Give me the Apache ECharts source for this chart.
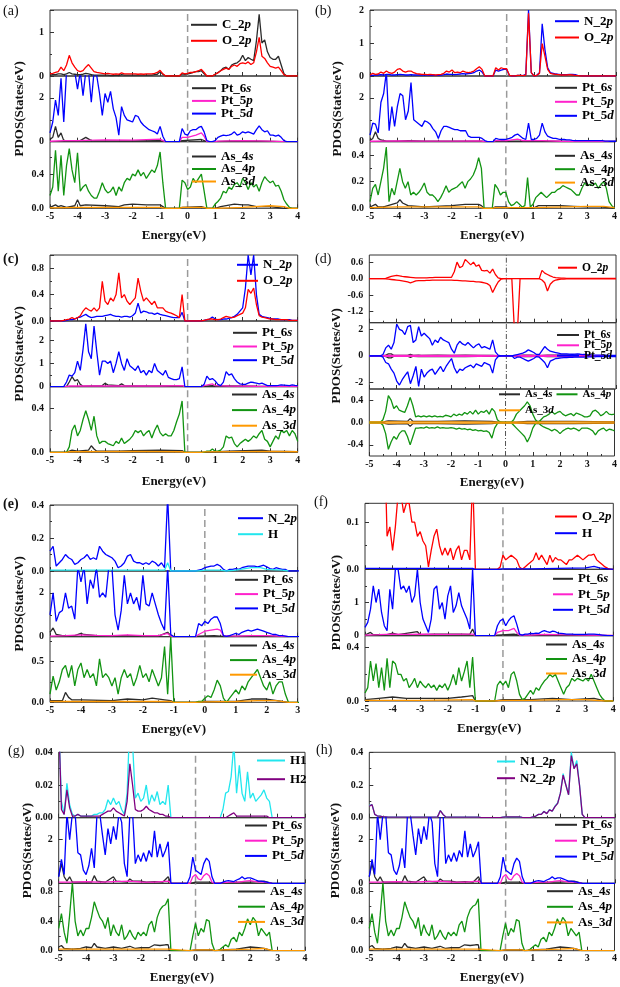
<!DOCTYPE html>
<html><head><meta charset="utf-8">
<script src="https://cdn.jsdelivr.net/npm/echarts@6/dist/echarts.min.js"></script>
<style>html,body{margin:0;padding:0;background:#fff}#c{width:620px;height:987px}</style>
</head><body><div id="c"></div><script>
// ---------------- DATA ----------------
const E = [-5.0,-4.9,-4.8,-4.7,-4.6,-4.5,-4.4,-4.3,-4.2,-4.1,-4.0,-3.9,-3.8,-3.7,-3.6,-3.5,-3.4,-3.3,-3.2,-3.1,-3.0,-2.9,-2.8,-2.7,-2.6,-2.5,-2.4,-2.3,-2.2,-2.1,-2.0,-1.9,-1.8,-1.7,-1.6,-1.5,-1.4,-1.3,-1.2,-1.1,-1.0,-0.9,-0.8,-0.7,-0.6,-0.5,-0.4,-0.3,-0.2,-0.1,0.0,0.1,0.2,0.3,0.4,0.5,0.6,0.7,0.8,0.9,1.0,1.1,1.2,1.3,1.4,1.5,1.6,1.7,1.8,1.9,2.0,2.1,2.2,2.3,2.4,2.5,2.6,2.7,2.8,2.9,3.0,3.1,3.2,3.3,3.4,3.5,3.6,3.7,3.8,3.9,4.0];
const FERMI = 0;

// (a)
const a_C2p = [0.02,0.03,0.03,0.05,0.05,0.03,0.05,0.08,0.05,0.04,
 0.03,0.03,0.04,0.06,0.05,0.03,0.02,0.02,0.02,0.02,
 0.02,0.02,0.01,0.01,0.02,0.01,0.03,0.02,0.02,0.02,
 0.02,0.02,0.02,0.02,0.02,0.02,0.02,0.02,0.03,0.04,
 0.1,0.04,0,0,0,0,0,0,0.05,0.04,
 0.05,0.06,0.08,0.1,0.1,0.12,0.05,0,0,0,
 0.04,0.08,0.12,0.18,0.2,0.15,0.25,0.28,0.3,0.35,
 0.47,0.35,0.42,0.38,0.35,0.8,1.4,0.75,0.82,0.55,
 0.42,0.38,0.38,0.45,0.25,0.05,0,0,0,0,
 0];
const a_O2p = [0.05,0.06,0.08,0.1,0.2,0.12,0.25,0.47,0.3,0.2,
 0.12,0.1,0.12,0.2,0.26,0.18,0.1,0.08,0.07,0.06,
 0.05,0.06,0.05,0.04,0.05,0.04,0.07,0.05,0.05,0.05,
 0.05,0.05,0.04,0.05,0.04,0.05,0.05,0.05,0.06,0.08,
 0.13,0.05,0,0,0,0,0,0,0.07,0.05,
 0.06,0.08,0.08,0.1,0.12,0.15,0.08,0,0,0,
 0.04,0.07,0.12,0.15,0.18,0.15,0.22,0.25,0.22,0.28,
 0.3,0.28,0.32,0.26,0.3,0.55,0.88,0.45,0.4,0.3,
 0.22,0.2,0.18,0.2,0.12,0.03,0,0,0,0,
 0];
const a_Pt5d = [0.4,0.9,1.9,1.2,2.9,0.9,3.2,3.2,3.2,3.2,
 2.4,3.2,2.1,3.2,3.2,1.8,3.2,3.0,2.2,1.2,
 2.2,1.8,2.3,1.5,1.1,0.3,1.6,1.2,1.0,0.95,
 0.9,1.2,1.15,0.9,0.75,0.65,0.55,0.5,0.45,0.35,
 0.7,0.25,0,0,0,0,0,0,0.6,0.35,
 0.3,0.5,0.55,0.55,0.65,0.7,0.45,0.05,0,0,
 0.05,0.2,0.25,0.3,0.28,0.3,0.35,0.45,0.3,0.35,
 0.45,0.4,0.45,0.4,0.35,0.55,0.72,0.55,0.45,0.5,
 0.3,0.3,0.25,0.3,0.2,0.05,0,0,0,0,
 0];
const a_Pt6s = [[-5,0.1],[-4.9,0.2],[-4.8,0.7],[-4.7,0.2],[-4.6,0.4],[-4.5,0.05],[-4.2,0.03],[-3.9,0.05],[-3.7,0.2],[-3.5,0.05],[-3,0.04],[-2,0.04],[-1.0,0.05],[-0.9,0.02],[-0.8,0],[-0.3,0],[-0.2,0.05],[0.5,0.1],[0.7,0],[1.0,0],[1.5,0.02],[2.6,0.03],[3.5,0],[4,0]];
const a_Pt5p = [[-5,0.02],[-4.5,0.05],[-4,0.05],[-3,0.08],[-2,0.07],[-1.0,0.12],[-0.9,0.05],[-0.8,0],[-0.3,0],[-0.2,0.2],[0,0.2],[0.3,0.3],[0.5,0.4],[0.6,0.25],[0.7,0],[1.0,0],[1.1,0.03],[2,0.05],[3,0.03],[3.5,0],[4,0]];
const a_As4p = [0.15,0.25,0.68,0.2,0.62,0.15,0.5,0.7,0.45,0.3,
 0.65,0.2,0.25,0.28,0.2,0.15,0.12,0.12,0.2,0.3,
 0.22,0.18,0.2,0.25,0.15,0.25,0.2,0.3,0.35,0.33,
 0.4,0.38,0.45,0.38,0.42,0.35,0.4,0.45,0.42,0.5,
 0.66,0.3,0,0,0,0,0,0,0.33,0.3,
 0.22,0.25,0.35,0.3,0.35,0.4,0.2,0,0,0,
 0.05,0.08,0.12,0.2,0.18,0.25,0.22,0.28,0.3,0.25,
 0.35,0.3,0.22,0.3,0.25,0.28,0.2,0.3,0.37,0.33,
 0.3,0.32,0.26,0.27,0.2,0.1,0.05,0.01,0,0,
 0];
const a_As4s = [[-5,0.01],[-4.8,0.04],[-4.7,0.02],[-4.6,0.03],[-4.4,0.01],[-4.1,0.03],[-4.0,0.1],[-3.9,0.03],[-3.7,0.04],[-3.0,0.03],[-2.5,0.02],[-2.3,0.04],[-2.0,0.05],[-1.5,0.04],[-1.0,0.04],[-0.9,0.02],[-0.8,0],[-0.3,0],[-0.2,0.01],[0.5,0.02],[0.7,0],[1.0,0],[1.2,0.02],[1.7,0.05],[2.0,0.04],[2.2,0.04],[2.5,0.02],[3,0.02],[3.5,0],[4,0]];
const a_As3d = [[-5,0.005],[-4,0.01],[-2,0.01],[-1,0.01],[-0.8,0],[-0.3,0],[-0.2,0.01],[0.6,0.01],[0.7,0],[1.0,0],[2,0.01],[3,0.03],[3.5,0.02],[3.7,0],[4,0]];

// (b)
const b_N2p = [0.01,0.02,0.03,0.03,0.04,0.03,0.05,0.05,0.03,0.03,
 0.04,0.05,0.04,0.03,0.03,0.04,0.03,0.03,0.03,0.03,
 0.03,0.03,0.02,0.03,0.02,0.02,0.03,0.04,0.06,0.05,
 0.05,0.04,0.05,0.06,0.07,0.06,0.07,0.08,0.1,0.15,
 0.18,0.12,0,0,0,0,0.18,0.15,0.18,0.2,
 0.2,0.02,0,0,0.02,0.02,0.01,0.05,2.0,0.1,
 0,0.02,0.1,1.58,0.8,0.25,0.1,0.08,0.06,0.05,
 0.04,0.04,0.04,0.05,0.05,0.04,0.02,0.01,0,0,
 0,0,0,0,0,0,0,0,0,0,
 0];
const b_O2p = [0.03,0.08,0.05,0.06,0.12,0.08,0.15,0.1,0.08,0.12,
 0.2,0.22,0.15,0.12,0.15,0.15,0.1,0.07,0.06,0.05,
 0.05,0.04,0.05,0.04,0.03,0.04,0.05,0.08,0.15,0.12,
 0.18,0.1,0.12,0.1,0.15,0.12,0.1,0.12,0.15,0.22,
 0.28,0.2,0,0,0,0,0.25,0.18,0.25,0.22,
 0.22,0.02,0,0,0.02,0.02,0.01,0.03,1.9,0.1,
 0,0.02,0.08,0.98,0.6,0.2,0.08,0.06,0.05,0.04,
 0.03,0.03,0.03,0.04,0.03,0.02,0.01,0,0,0,
 0,0,0,0,0,0,0,0,0,0,
 0];
const b_Pt5d = [0.3,0.85,0.8,0.4,1.8,2.2,3.2,0.5,1.6,0.7,
 1.6,2.2,2.1,1.0,1.4,2.7,1.0,0.9,0.8,0.7,
 0.95,0.9,0.8,0.6,0.45,0.15,0.5,0.7,0.7,0.65,
 0.6,0.55,0.55,0.5,0.5,0.5,0.25,0.2,0.2,0.2,
 0.2,0.15,0.05,0,0,0,0.15,0.12,0.1,0.1,
 0.12,0.15,0.2,0.3,0.35,0.25,0.15,0.1,0.85,0.1,
 0.1,0.15,0.3,0.85,0.45,0.25,0.2,0.15,0.15,0.12,
 0.1,0.1,0.08,0.08,0.06,0.05,0.05,0.05,0.05,0.05,
 0.05,0.05,0.05,0.05,0.05,0.05,0.03,0.03,0.02,0.02,
 0.02];
const b_Pt6s = [[-5,0.05],[-4.9,0.15],[-4.8,0.45],[-4.7,0.15],[-4.6,0.08],[-4.4,0.03],[-4,0.03],[-3.6,0.05],[-3,0.02],[-2,0.02],[-1,0.03],[-0.9,0.02],[-0.8,0],[-0.5,0],[-0.4,0.02],[0,0.02],[0.8,0.02],[1.5,0.02],[2.5,0.01],[4,0.01]];
const b_Pt5p = [[-5,0.02],[-4,0.04],[-3,0.03],[-2,0.03],[-1,0.04],[-0.8,0],[-0.5,0],[-0.4,0.05],[0,0.05],[0.4,0.12],[0.6,0.05],[1.3,0.05],[2,0.02],[4,0.01]];
const b_As4p = [0.05,0.15,0.18,0.1,0.2,0.3,0.46,0.05,0.15,0.1,
 0.2,0.3,0.2,0.15,0.2,0.1,0.12,0.1,0.12,0.15,
 0.19,0.12,0.1,0.1,0.08,0.05,0.08,0.12,0.17,0.12,
 0.14,0.15,0.16,0.18,0.2,0.15,0.2,0.22,0.25,0.3,
 0.38,0.3,0,0,0,0,0.18,0.15,0.1,0.12,
 0.12,0.05,0.02,0.03,0.05,0.03,0.01,0.02,0.23,0.01,
 0.03,0.08,0.1,0.12,0.1,0.08,0.1,0.12,0.12,0.14,
 0.15,0.17,0.16,0.15,0.14,0.12,0.1,0.1,0.15,0.19,
 0.17,0.18,0.17,0.19,0.15,0.18,0.2,0.15,0.05,0.02,
 0];
const b_As4s = [[-5,0.01],[-4.8,0.03],[-4.7,0.01],[-4.5,0.01],[-4.0,0.04],[-3.9,0.065],[-3.8,0.04],[-3.6,0.02],[-3,0.01],[-2,0.02],[-1.5,0.03],[-1.0,0.03],[-0.9,0.02],[-0.8,0],[-0.5,0],[-0.4,0.01],[0,0.01],[0.2,0],[1,0],[1.2,0.02],[2,0.02],[2.5,0.015],[3,0.01],[3.5,0.01],[4,0]];
const b_As3d = [[-5,0.005],[-4,0.01],[-1,0.01],[-0.8,0],[-0.5,0],[-0.4,0.005],[0,0.005],[1,0.005],[3,0.015],[3.6,0.015],[4,0.005]];

// (c)
const c_N2p = [0,0,0,0,0,0,0.01,0.02,0.02,0.03,
 0.05,0.06,0.08,0.1,0.07,0.05,0.06,0.07,0.07,0.07,
 0.08,0.09,0.1,0.08,0.07,0.07,0.06,0.07,0.07,0.06,
 0.08,0.12,0.27,0.12,0.15,0.14,0.12,0.12,0.1,0.12,
 0.1,0.09,0.08,0.07,0.06,0.05,0.05,0.05,0.13,0,
 0,0,0,0,0,0,0.01,0.02,0.03,0.06,
 0.03,0.02,0.02,0.03,0.03,0.04,0.05,0.07,0.1,0.15,
 0.2,0.5,1.0,0.7,1.0,0.4,0.1,0.07,0.06,0.05,
 0.04,0.03,0.03,0.03,0.02,0.02,0.02,0.02,0.01,0.01,
 0.01];
const c_O2p = [0,0,0,0,0,0.01,0.02,0.03,0.05,0.03,
 0.05,0.08,0.15,0.2,0.17,0.15,0.2,0.15,0.2,0.6,
 0.3,0.25,0.35,0.3,0.4,0.73,0.35,0.4,0.3,0.25,
 0.3,0.35,0.65,0.45,0.3,0.35,0.3,0.25,0.3,0.2,
 0.2,0.2,0.15,0.13,0.12,0.1,0.08,0.05,0.4,0,
 0,0,0,0,0,0,0.01,0.02,0.03,0.03,
 0.02,0.02,0.03,0.05,0.07,0.06,0.05,0.06,0.08,0.1,
 0.12,0.2,0.48,0.42,0.5,0.25,0.08,0.06,0.05,0.04,
 0.03,0.03,0.02,0.02,0.02,0.02,0.02,0.01,0.01,0.01,
 0.01];
const c_Pt5d = [0,0,0,0,0,0,0.2,0.5,0.45,0.6,
 1.1,0.7,1.6,2.7,1.5,1.2,2.6,1.5,0.5,1.1,
 1.1,1.0,1.1,0.6,1.0,1.5,1.0,0.7,1.2,0.9,
 0.8,0.7,0.9,0.6,0.7,0.5,0.7,0.6,1.0,0.7,
 0.6,0.5,0.7,0.4,0.35,0.3,0.3,0.35,0.85,0,
 0,0,0,0,0,0,0.1,0.45,0.3,0.35,
 0.25,0.1,0.05,0.2,0.65,0.5,0.55,0.35,0.2,0.12,
 0.1,0.1,0.15,0.2,0.18,0.15,0.12,0.15,0.1,0.05,
 0.05,0.05,0.05,0.06,0.08,0.07,0.06,0.05,0.08,0.06,
 0.05];
const c_Pt6s = [[-5,0],[-4.4,0],[-4.3,0.2],[-4.2,0.43],[-4.1,0.25],[-4.0,0.3],[-3.9,0.1],[-3.8,0.02],[-3.1,0.05],[-3.0,0.15],[-2.9,0.08],[-2.5,0.04],[-2.4,0.12],[-2.3,0.05],[-2,0.03],[-1,0.03],[-0.2,0.03],[-0.1,0],[0.5,0],[0.6,0.02],[0.9,0.05],[1.0,0.02],[1.5,0.03],[2.5,0.02],[4,0.01]];
const c_Pt5p = [[-5,0],[-4.4,0],[-4.3,0.03],[-4,0.03],[-3,0.03],[-2,0.03],[-1,0.03],[-0.2,0.05],[-0.1,0],[0.5,0],[0.6,0.05],[0.9,0.12],[1.0,0.05],[1.5,0.03],[2.5,0.02],[4,0.01]];
const c_As4p = [0,0,0,0,0,0,0,0.05,0.2,0.25,
 0.15,0.2,0.3,0.38,0.3,0.2,0.33,0.15,0.08,0.1,
 0.1,0.08,0.07,0.06,0.1,0.08,0.13,0.08,0.1,0.12,
 0.15,0.2,0.18,0.2,0.15,0.18,0.2,0.13,0.2,0.25,
 0.18,0.15,0.17,0.15,0.15,0.2,0.28,0.35,0.47,0,
 0,0,0,0,0,0,0,0.01,0.01,0.03,
 0.01,0.01,0.02,0.05,0.15,0.13,0.14,0.08,0.05,0.08,
 0.1,0.12,0.1,0.12,0.15,0.13,0.17,0.2,0.12,0.1,
 0.05,0.1,0.15,0.12,0.2,0.18,0.2,0.15,0.2,0.17,
 0.1];
const c_As4s = [[-5,0],[-4.4,0],[-4.3,0.01],[-4.2,0.02],[-4.0,0.01],[-3.6,0.02],[-3.5,0.06],[-3.4,0.03],[-3.3,0.01],[-2.5,0.01],[-2,0.015],[-1,0.02],[-0.2,0.015],[-0.1,0],[0.5,0],[0.6,0],[1.5,0.01],[2.7,0.02],[3,0.01],[4,0.005]];
const c_As3d = [[-5,0],[-4.4,0],[-4.3,0.005],[-2,0.008],[-0.2,0.005],[-0.1,0],[0.5,0],[0.6,0.003],[3,0.008],[4,0.005]];

// (d) spin up / spin down
const d_O2p_up = [0,0,0,0,0,0,0.01,0.05,0.08,0.1,
 0.12,0.1,0.08,0.07,0.06,0.05,0.04,0.03,0.03,0.03,
 0.03,0.03,0.04,0.04,0.05,0.05,0.05,0.05,0.05,0.05,
 0.05,0.25,0.6,0.4,0.45,0.7,0.6,0.5,0.6,0.45,
 0.5,0.3,0.28,0.3,0.2,0.35,0.15,0.03,0,0,
 0,0,0,0,0,0,0,0,0,0,
 0,0,0,0.3,0.2,0.15,0.1,0.06,0.04,0.03,
 0.02,0.02,0.01,0.01,0.01,0.01,0.01,0.01,0.01,0.01,
 0.01,0.01,0.01,0.01,0.01,0.01,0.01,0.01,0.01,0.01,
 0.01];
const d_O2p_dn = [0,0,0,0,0,0,-0.01,-0.02,-0.03,-0.04,
 -0.05,-0.06,-0.08,-0.1,-0.12,-0.15,-0.12,-0.08,-0.07,-0.07,
 -0.07,-0.06,-0.06,-0.05,-0.05,-0.05,-0.05,-0.05,-0.05,-0.05,
 -0.05,-0.06,-0.06,-0.07,-0.08,-0.08,-0.09,-0.1,-0.1,-0.12,
 -0.12,-0.13,-0.15,-0.18,-0.25,-0.5,-0.3,-0.12,-0.02,0,
 0,0,0,-2.0,-2.0,0,0,0,0,0,
 0,0,0,-0.05,-0.15,-0.45,-0.2,-0.1,-0.05,-0.03,
 -0.02,-0.02,-0.01,-0.01,-0.01,-0.01,-0.01,-0.01,-0.01,-0.01,
 -0.01,-0.01,-0.01,-0.01,-0.01,-0.01,-0.01,-0.01,-0.01,-0.01,
 -0.01];
const d_Pt5d_up = [0,0,0,0,0,0.1,0.6,0.8,0.5,1.0,
 2.4,2.0,1.9,1.6,2.2,2.3,1.0,1.2,2.2,1.5,
 1.7,1.5,1.3,0.8,1.2,1.0,1.4,1.2,1.1,1.0,
 0.5,0.2,0.8,1.1,0.9,0.8,1.0,0.8,0.6,0.8,
 0.9,0.6,0.7,0.6,0.5,1.2,0.3,0.05,0,0,
 0,0,0,0.05,0.1,0.15,0.2,0.3,0.45,0.35,
 0.25,0.1,0.1,0.4,0.7,0.5,0.35,0.3,0.25,0.2,
 0.15,0.15,0.15,0.13,0.12,0.13,0.15,0.12,0.1,0.1,
 0.08,0.07,0.06,0.06,0.05,0.05,0.05,0.04,0.04,0.04,
 0.03];
const d_Pt5d_dn = [0,0,0,0,0,-0.1,-0.5,-0.6,-1.0,-1.3,
 -1.9,-2.2,-1.8,-1.5,-1.2,-2.1,-1.5,-0.8,-2.3,-1.0,
 -1.6,-1.3,-1.1,-1.0,-1.4,-1.1,-0.8,-1.2,-0.8,-0.5,
 -0.2,-0.9,-1.3,-1.0,-1.1,-0.9,-0.8,-0.7,-0.9,-0.6,
 -0.7,-0.8,-0.5,-0.6,-0.7,-1.3,-0.3,-0.05,0,0,
 0,0,0,-0.2,-0.1,-0.1,-0.2,-0.3,-0.4,-0.3,
 -0.2,-0.05,-0.1,-0.3,-0.5,-0.9,-0.4,-0.3,-0.2,-0.18,
 -0.15,-0.14,-0.13,-0.12,-0.11,-0.1,-0.1,-0.1,-0.09,-0.09,
 -0.08,-0.07,-0.07,-0.06,-0.06,-0.06,-0.05,-0.05,-0.05,-0.05,
 -0.05];
const d_Pt6s_up = [[-5,0],[-4.5,0],[-4.4,0.05],[-4.3,0.15],[-4.2,0.15],[-4.1,0.03],[-3.6,0.03],[-3.5,0.12],[-3.4,0.03],[-3.2,0.06],[-3.1,0.03],[-2.5,0.06],[-2,0.04],[-1.5,0.05],[-1,0.04],[-0.5,0.03],[-0.2,0],[0.3,0],[0.6,0.05],[0.9,0.06],[1.2,0.02],[1.5,0.05],[2,0.06],[2.5,0.06],[3,0.04],[4,0.02]];
const d_Pt6s_dn = [[-5,0],[-4.5,0],[-4.4,-0.05],[-4.3,-0.15],[-4.2,-0.15],[-4.1,-0.03],[-3.6,-0.03],[-3.5,-0.12],[-3.4,-0.03],[-3.2,-0.06],[-3.1,-0.03],[-2.5,-0.06],[-2,-0.04],[-1.5,-0.05],[-1,-0.04],[-0.5,-0.03],[-0.2,0],[0.3,0],[0.6,-0.05],[0.9,-0.06],[1.2,-0.02],[1.5,-0.05],[2,-0.06],[2.5,-0.06],[3,-0.04],[4,-0.02]];
const d_Pt5p_up = [[-5,0.01],[-4.5,0.02],[-4.4,0.03],[-3,0.03],[-1,0.03],[-0.2,0.01],[0.3,0.01],[0.5,0.03],[1.5,0.03],[4,0.02]];
const d_Pt5p_dn = [[-5,-0.01],[-4.5,-0.02],[-4.4,-0.03],[-3,-0.03],[-1,-0.03],[-0.2,-0.01],[0.3,-0.01],[0.5,-0.03],[1.5,-0.03],[4,-0.02]];
const d_As4p_up = [0,0,0,0,0,0.05,0.2,0.48,0.4,0.25,
 0.3,0.22,0.2,0.18,0.3,0.45,0.3,0.1,0.12,0.1,
 0.12,0.1,0.12,0.1,0.12,0.1,0.11,0.1,0.13,0.12,
 0.1,0.15,0.12,0.15,0.13,0.18,0.15,0.2,0.15,0.22,
 0.15,0.2,0.18,0.22,0.15,0.25,0.2,0.05,0.01,0,
 0,0,0,0.05,0.15,0.2,0.25,0.3,0.37,0.3,
 0.15,0.05,0,0.05,0.1,0.12,0.15,0.2,0.15,0.18,
 0.2,0.15,0.12,0.14,0.16,0.12,0.17,0.15,0.13,0.1,
 0.1,0.12,0.2,0.22,0.18,0.12,0.15,0.2,0.15,0.14,
 0.15];
const d_As4p_dn = [0,0,0,0,0,-0.05,-0.2,-0.48,-0.35,-0.25,
 -0.3,-0.2,-0.15,-0.15,-0.25,-0.4,-0.25,-0.1,-0.1,-0.09,
 -0.1,-0.08,-0.1,-0.09,-0.1,-0.08,-0.1,-0.09,-0.1,-0.1,
 -0.09,-0.1,-0.12,-0.1,-0.12,-0.11,-0.13,-0.12,-0.14,-0.13,
 -0.15,-0.14,-0.16,-0.15,-0.18,-0.28,-0.1,-0.02,0,0,
 0,0,0,-0.05,-0.1,-0.15,-0.2,-0.25,-0.35,-0.25,
 -0.1,-0.02,0,-0.05,-0.08,-0.1,-0.12,-0.15,-0.12,-0.15,
 -0.2,-0.15,-0.12,-0.1,-0.12,-0.1,-0.12,-0.15,-0.1,-0.1,
 -0.1,-0.12,-0.15,-0.22,-0.15,-0.12,-0.1,-0.15,-0.12,-0.13,
 -0.15];
const d_As4s_up = [[-5,0],[-4.5,0],[-4.4,0.02],[-4.3,0.03],[-3.6,0.02],[-3.5,0.07],[-3.4,0.02],[-2.5,0.02],[-1.5,0.03],[-0.5,0.02],[-0.2,0],[0.3,0],[0.8,0.02],[1.5,0.02],[2.5,0.02],[4,0.01]];
const d_As4s_dn = [[-5,0],[-4.5,0],[-4.4,-0.02],[-4.3,-0.03],[-3.6,-0.02],[-3.5,-0.07],[-3.4,-0.02],[-2.5,-0.02],[-1.5,-0.03],[-0.5,-0.02],[-0.2,0],[0.3,0],[0.8,-0.02],[1.5,-0.02],[2.5,-0.02],[4,-0.01]];
const d_As3d_up = [[-5,0.01],[-2,0.01],[0,0.005],[2,0.01],[4,0.01]];
const d_As3d_dn = [[-5,-0.01],[-2,-0.01],[0,-0.005],[2,-0.01],[4,-0.01]];

// (e)
const e_N2p = [0.12,0.15,0.03,0.05,0.07,0.1,0.08,0.07,0.04,0.05,
 0.07,0.08,0.1,0.07,0.08,0.07,0.15,0.12,0.1,0.09,
 0.08,0.06,0.02,0.03,0.05,0.09,0.1,0.06,0.05,0.05,
 0.04,0.05,0.04,0.06,0.05,0.03,0.05,0.02,0.45,0,
 0,0,0,0,0,0,0,0,0.005,0.01,
 0.02,0.025,0.03,0.03,0.04,0.03,0.01,0,0.01,0.01,
 0.015,0.01,0.02,0.025,0.03,0.03,0.03,0.025,0.03,0.035,
 0.025,0.015,0.01,0.02,0.015,0.01,0.01,0,0,0,
 0,0,0,0,0,0,0,0,0,0,
 0];
const e_H = [[-5,0.005],[-4,0.005],[-3,0.005],[-2,0.005],[-1.3,0.005],[-1.2,0.05],[-1.1,0],[-0.2,0],[0,0.005],[0.5,0.005],[0.7,0],[1.0,0.005],[1.3,0.015],[1.5,0.02],[1.8,0.02],[2.0,0.01],[2.5,0.005],[2.7,0]];
const e_Pt5d = [1.0,2.0,0.7,1.1,1.2,2.0,1.3,1.4,0.8,3.2,
 2.5,3.2,1.5,2.6,2.2,3.2,1.8,2.0,1.8,3.2,
 3.2,1.0,0.3,1.2,2.8,1.5,2.0,1.5,1.8,1.2,
 2.8,1.5,1.4,2.0,1.5,1.0,0.6,0.3,3.2,0.1,
 0,0,0,0,0,0,0,0,0.6,0.5,
 0.7,0.6,0.8,0.9,0.9,0.6,0.05,0.02,0.05,0.1,
 0.15,0.1,0.2,0.25,0.3,0.25,0.3,0.35,0.3,0.25,
 0.2,0.15,0.1,0.1,0.05,0.05,0.03,0,0,0,
 0,0,0,0,0,0,0,0,0,0,
 0];
const e_Pt6s = [[-5,0.2],[-4.9,0.4],[-4.8,0.1],[-4.6,0.05],[-4.2,0.05],[-4.0,0.15],[-3.9,0.1],[-3.5,0.05],[-3,0.05],[-2.5,0.05],[-2,0.03],[-1.5,0.03],[-1.2,0.2],[-1.1,0.05],[-1.0,0],[-0.3,0],[-0.2,0.02],[0.3,0.05],[0.6,0.01],[1.5,0.03],[2,0.03],[2.7,0]];
const e_Pt5p = [[-5,0.03],[-4.5,0.05],[-4,0.08],[-3.5,0.06],[-3,0.05],[-2.5,0.08],[-2,0.05],[-1.5,0.05],[-1.2,0.15],[-1.1,0.02],[-1.0,0],[-0.3,0],[-0.2,0.1],[0,0.25],[0.2,0.3],[0.4,0.35],[0.5,0.3],[0.6,0.05],[1.0,0.03],[1.5,0.05],[2.0,0.05],[2.5,0.02],[2.7,0]];
const e_As4p = [0.1,0.32,0.15,0.25,0.4,0.45,0.3,0.45,0.2,0.4,
 0.48,0.3,0.4,0.3,0.35,0.2,0.53,0.3,0.35,0.3,
 0.2,0.3,0.1,0.3,0.4,0.3,0.35,0.2,0.3,0.45,
 0.3,0.35,0.25,0.4,0.3,0.2,0.3,0.68,0.1,0.8,
 0,0,0,0,0,0,0,0,0.01,0.01,
 0.05,0.08,0.06,0.15,0.27,0.2,0.05,0,0.05,0.1,
 0.15,0.1,0.2,0.15,0.25,0.3,0.35,0.4,0.3,0.2,
 0.15,0.25,0.1,0.2,0.25,0.25,0.1,0,0,0,
 0,0,0,0,0,0,0,0,0,0,
 0];
const e_As4s = [[-5,0.02],[-4.6,0.02],[-4.5,0.12],[-4.4,0.06],[-4.3,0.03],[-4,0.03],[-3,0.02],[-2.5,0.04],[-2,0.03],[-1.7,0.05],[-1.3,0.03],[-1.1,0.02],[-1.0,0],[-0.3,0],[0,0.01],[0.6,0.01],[1.0,0.01],[1.5,0.04],[2.0,0.04],[2.5,0.01],[2.7,0]];
const e_As3d = [[-5,0.01],[-3,0.01],[-1.1,0.01],[-1.0,0],[-0.3,0],[0,0.005],[1,0.01],[1.7,0.02],[2.3,0.02],[2.7,0],[3,0]];

// (f)
const f_O2p = [0.3,0.3,0.3,0.3,0.3,0.3,0.3,0.3,0.07,0.09,
 0.04,0.09,0.16,0.16,0.12,0.14,0.14,0.1,0.1,0.07,
 0.08,0.06,0.05,0.005,0.04,0.07,0.085,0.05,0.03,0.045,
 0.03,0.045,0.02,0.04,0.05,0.02,0.04,0.04,0.02,0.2,
 0,0,0,0,0,0,0,0,0,0.005,
 0.03,0.02,0.025,0.03,0.025,0.02,0.005,0,0.005,0.01,
 0.015,0.02,0.035,0.02,0.03,0.02,0.01,0.03,0.015,0.025,
 0.02,0.02,0.015,0.01,0.02,0.02,0.025,0.03,0.025,0.02,
 0.025,0.03,0.03,0.032,0.02,0.015,0.01,0.005,0.002,0,
 0];
const f_H = [[-5,0.002],[-4,0.002],[-3,0.002],[-2,0.002],[-1.1,0.002],[-1.0,0],[-0.2,0],[0,0.001],[1,0.001],[2,0.002],[3,0.003],[3.2,0.005],[3.3,0.006],[3.5,0.003],[3.8,0.001],[4,0]];
const f_Pt5d = [0.25,0.4,0.8,1.5,1.0,1.4,0.7,0.3,0.15,1.4,
 0.8,2.0,2.0,1.4,1.5,1.3,1.5,1.0,1.2,2.0,
 1.0,0.5,0.3,0.1,0.5,1.4,1.5,0.8,1.0,0.5,
 1.2,1.5,0.7,0.9,1.3,0.9,0.7,0.5,0.2,2.0,
 0,0,0,0,0,0,0,0,0.3,0.45,
 0.5,0.3,0.45,0.55,0.6,0.35,0.05,0.02,0.05,0.05,
 0.07,0.06,0.08,0.07,0.12,0.15,0.12,0.1,0.14,0.12,
 0.08,0.07,0.06,0.05,0.05,0.05,0.04,0.04,0.04,0.04,
 0.04,0.05,0.05,0.05,0.04,0.03,0.02,0.01,0,0,
 0];
const f_Pt6s = [[-5,0.02],[-4.8,0.1],[-4.7,0.03],[-4.2,0.03],[-4.0,0.08],[-3.8,0.03],[-3.1,0.12],[-3.0,0.03],[-2.5,0.05],[-2.0,0.05],[-1.5,0.05],[-1.2,0.04],[-1.1,0.2],[-1.0,0],[-0.3,0],[-0.2,0.02],[0.4,0.05],[0.6,0.01],[1.5,0.02],[2.5,0.02],[3.5,0.01],[4,0]];
const f_Pt5p = [[-5,0.02],[-4.5,0.03],[-4.0,0.05],[-3.5,0.04],[-3.0,0.05],[-2.0,0.04],[-1.1,0.05],[-1.0,0],[-0.3,0],[-0.2,0.1],[0,0.15],[0.2,0.15],[0.4,0.22],[0.5,0.1],[0.6,0.02],[1.0,0.02],[1.5,0.04],[2.0,0.03],[3.0,0.02],[4.0,0.01]];
const f_As4p = [0.06,0.1,0.3,0.15,0.28,0.1,0.25,0.08,0.32,0.1,
 0.3,0.28,0.2,0.2,0.15,0.17,0.1,0.13,0.17,0.1,
 0.15,0.12,0.1,0.13,0.1,0.12,0.08,0.12,0.1,0.13,
 0.08,0.13,0.2,0.12,0.25,0.15,0.22,0.3,0.1,0.33,
 0,0,0,0,0,0,0,0,0.12,0.15,
 0.12,0.15,0.1,0.2,0.22,0.15,0.05,0.01,0.02,0.05,
 0.08,0.05,0.1,0.08,0.12,0.15,0.17,0.2,0.18,0.2,
 0.15,0.1,0.05,0.1,0.12,0.17,0.15,0.17,0.16,0.15,
 0.17,0.15,0.2,0.15,0.1,0.05,0.02,0,0,0,
 0];
const f_As4s = [[-5,0.01],[-4.5,0.02],[-4.0,0.03],[-3.5,0.02],[-3,0.02],[-2.5,0.02],[-2,0.02],[-1.5,0.03],[-1.3,0.035],[-1.1,0.04],[-1.0,0],[-0.3,0],[0,0.01],[0.6,0.01],[1.0,0.01],[1.8,0.02],[2.5,0.01],[3.3,0.02],[3.7,0],[4,0]];
const f_As3d = [[-5,0.005],[-3,0.005],[-1.1,0.01],[-1.0,0],[-0.3,0],[0,0.005],[1,0.005],[2,0.01],[3,0.01],[3.7,0],[4,0]];

// (g)
const g_H1 = [0.06,0.01,0.002,0.021,0.008,0.002,0.001,0.002,0.001,0.001,
 0.001,0.001,0.001,0.002,0.002,0.003,0.003,0.005,0.011,0.008,
 0.012,0.008,0.01,0.005,0.002,0.015,0.06,0.045,0.012,0.015,
 0.01,0.012,0.02,0.008,0.014,0.01,0.016,0.008,0.01,0.008,
 0.02,0,0,0,0,0,0,0,0,0,
 0,0,0,0,0,0,0,0,0,0,
 0.005,0.015,0.016,0.025,0.045,0.015,0.032,0.015,0.01,0.028,
 0.012,0.015,0.01,0.012,0.014,0.017,0.012,0.01,0,0,
 0,0,0,0,0,0,0,0,0,0,
 0];
const g_H2 = [0.06,0.005,0.002,0.017,0.006,0.001,0.001,0.002,0.001,0.001,
 0.001,0.001,0.001,0.001,0.001,0.001,0.002,0.003,0.004,0.004,
 0.006,0.004,0.003,0.002,0.001,0.01,0.033,0.02,0.005,0.004,
 0.004,0.005,0.007,0.005,0.004,0.003,0.003,0.002,0.002,0.001,
 0.001,0,0,0,0,0,0,0,0,0,
 0,0,0,0,0,0,0,0,0,0,
 0,0,0.001,0.002,0.003,0.001,0.001,0.001,0.001,0.001,
 0.001,0.001,0.001,0.001,0.001,0.001,0.001,0,0,0,
 0,0,0,0,0,0,0,0,0,0,
 0];
const g_Pt5d = [0.3,1.1,0.4,3.2,2.0,3.2,3.2,1.4,1.3,0.6,
 0.4,0.8,1.6,0.7,3.2,3.2,2.2,1.3,2.5,1.8,
 2.6,2.0,3.2,2.8,0.9,0.3,3.2,3.2,0.9,1.3,
 1.0,1.4,1.0,1.5,1.2,2.4,1.2,1.8,1.2,1.5,
 1.9,0,0,0,0,0,0,0,0.3,1.2,
 0.6,0.5,0.4,0.9,1.15,1.0,0.3,0,0,0,
 0.05,0.1,0.12,0.1,0.08,0.15,0.2,0.3,0.2,0.25,
 0.25,0.2,0.15,0.1,0.1,0.08,0.05,0.02,0,0,
 0,0,0,0,0,0,0,0,0,0,
 0];
const g_Pt6s = [[-5,0.3],[-4.9,0.9],[-4.8,0.3],[-4.7,0.1],[-4.6,0.3],[-4.5,0.05],[-4.3,0.05],[-4.0,0.05],[-3.8,0.05],[-3.7,0.35],[-3.6,0.1],[-3.3,0.05],[-3.0,0.3],[-2.9,0.1],[-2.5,0.05],[-2.4,0.2],[-2.3,0.1],[-2.0,0.1],[-1.8,0.05],[-1.5,0.08],[-1.2,0.05],[-1.0,0.3],[-0.9,0],[-0.2,0],[0,0.05],[0.5,0.05],[0.7,0],[1.0,0.02],[1.7,0.05],[2.0,0.05],[2.5,0.1],[2.8,0]];
const g_Pt5p = [[-5,0.05],[-4.5,0.05],[-4,0.08],[-3.5,0.05],[-3,0.08],[-2.4,0.1],[-2,0.06],[-1.5,0.05],[-1.0,0.1],[-0.9,0],[-0.2,0],[-0.1,0.3],[0,0.4],[0.1,0.2],[0.2,0.15],[0.3,0.35],[0.4,0.45],[0.5,0.35],[0.6,0.05],[0.7,0],[1.0,0.03],[1.3,0.05],[1.6,0.05],[1.8,0.1],[2.0,0.12],[2.3,0.05],[2.5,0.05],[2.8,0]];
const g_As4p = [0.3,0.5,0.25,0.1,0.48,0.92,0.4,0.2,0.28,0.2,
 0.3,0.3,0.45,0.66,0.55,0.45,0.4,0.3,0.45,0.2,
 0.35,0.25,0.2,0.35,0.15,0.2,0.28,0.2,0.15,0.25,
 0.2,0.25,0.2,0.35,0.4,0.25,0.45,0.55,0.6,0.62,
 0.7,0,0,0,0,0,0,0,0,0.2,
 0.37,0.2,0.3,0.25,0.42,0.4,0.1,0,0,0.02,
 0.05,0.08,0.05,0.15,0.18,0.12,0.25,0.2,0.3,0.43,
 0.35,0.45,0.4,0.2,0.3,0.25,0.2,0.25,0,0,
 0,0,0,0,0,0,0,0,0,0,
 0];
const g_As4s = [[-5,0.05],[-4.9,0.07],[-4.8,0.03],[-4.5,0.02],[-4.2,0.03],[-4.0,0.05],[-3.8,0.04],[-3.7,0.1],[-3.6,0.05],[-3.3,0.03],[-3.0,0.05],[-2.7,0.03],[-2.4,0.06],[-2.2,0.03],[-2.0,0.04],[-1.7,0.04],[-1.5,0.08],[-1.3,0.07],[-1.1,0.08],[-1.0,0.08],[-0.95,0],[-0.2,0],[0,0.01],[0.6,0.01],[0.7,0],[1.0,0.01],[1.5,0.02],[2.0,0.05],[2.3,0.04],[2.5,0.03],[2.8,0]];
const g_As3d = [[-5,0.02],[-4,0.02],[-3,0.02],[-2,0.02],[-1,0.02],[-0.95,0],[-0.2,0],[0,0.01],[0.6,0.01],[0.7,0],[1,0.01],[2,0.02],[2.5,0.03],[2.8,0],[4,0]];

// (h)
const h_N1 = [0.075,0.08,0.02,0.01,0.01,0.005,0.005,0.003,0.003,0.003,
 0.003,0.003,0.003,0.003,0.003,0.003,0.003,0.003,0.003,0.003,
 0.003,0.003,0.003,0.003,0.003,0.005,0.045,0.02,0.005,0.003,
 0.003,0.003,0.003,0.003,0.003,0.003,0.003,0.003,0.003,0.003,
 0.003,0,0,0,0,0,0,0,0,0.003,
 0.005,0.005,0.005,0.005,0.005,0.005,0.002,0,0,0,
 0.005,0.01,0.02,0.02,0.04,0.025,0.05,0.04,0.07,0.09,
 0.15,0.27,0.2,0.14,0.4,0.3,0.35,0.2,0.02,0,
 0,0,0,0,0,0,0,0,0,0,
 0];
const h_N2 = [0.07,0.08,0.02,0.01,0.01,0.005,0.005,0.003,0.003,0.003,
 0.003,0.003,0.003,0.003,0.003,0.003,0.003,0.003,0.003,0.003,
 0.003,0.003,0.003,0.003,0.003,0.005,0.043,0.02,0.005,0.003,
 0.003,0.003,0.003,0.003,0.003,0.003,0.003,0.003,0.003,0.003,
 0.003,0,0,0,0,0,0,0,0,0.003,
 0.005,0.005,0.005,0.005,0.005,0.005,0.002,0,0,0,
 0.005,0.01,0.02,0.02,0.038,0.025,0.048,0.04,0.068,0.088,
 0.15,0.26,0.2,0.14,0.38,0.3,0.33,0.2,0.02,0,
 0,0,0,0,0,0,0,0,0,0,
 0];

// y tick steps per subplot and the spin-polarised (d) tick labels
const YI_a = [1, 2, 0.4];
const YI_b = [1, 2, 0.2];
const YI_c = [0.4, 1, 0.4];
const YT_d = [[-1.2,-0.6,0,0.6],[-2,0,2],[-0.4,0,0.4]];
const YI_e = [0.2, 2, 0.5];
const YI_f = [0.1, 1, 0.4];
const YI_g = [0.02, 2, 0.4];
const YI_h = [0.2, 2, 0.4];

// ---------------- LAYOUT / STYLE ----------------
const FONT = '"Liberation Serif","Times New Roman",serif';
const COL = {blk:'#2b2b2b', red:'#ff0000', mag:'#ff22cc', blu:'#0000ff', grn:'#129412', org:'#ff9900', cyn:'#22e6ee', pur:'#800080'};
const P = {
 a:{l:50,  w:247.7,y:[10,76,141.7,208.3],  xmax:4, ng:23.5, eg:21, lab:'(a)', lx:3,  ly:4,   bold:false},
 b:{l:370, w:246,  y:[10,76,141.7,208.3],  xmax:4, ng:25.5, eg:21, lab:'(b)', lx:315,ly:4,   bold:false},
 c:{l:50,  w:247.7,y:[255,321,386.7,452.3],xmax:4, ng:23.5, eg:23, lab:'(c)', lx:3,  ly:252, bold:true},
 d:{l:369.3,w:246.7,y:[255,322.7,389,456], xmax:4, ng:26,   eg:20, lab:'(d)', lx:315,ly:252, bold:false},
 e:{l:50,  w:247.7,y:[505,571,636.7,702.3],xmax:3, ng:24,   eg:21, lab:'(e)', lx:3,  ly:497, bold:true},
 f:{l:365, w:248.3,y:[503.3,569.3,635.7,701],xmax:4,ng:22,  eg:21, lab:'(f)', lx:314,ly:495, bold:false},
 g:{l:58.7,w:246.3,y:[752.3,817.7,883.3,950.7],xmax:4,ng:25,eg:20, lab:'(g)', lx:8,  ly:744, bold:false},
 h:{l:369.3,w:245.7,y:[752.3,817.7,883.3,950.7],xmax:4,ng:27,eg:20,lab:'(h)', lx:316,ly:743, bold:false}
};
const SUBS = [
 {p:'a',k:0,min:0,max:1.5, iv:YI_a[0],dec:0,s:[['C_2p',a_C2p,'blk'],['O_2p',a_O2p,'red']],lg:[191,24.3,15,26]},
 {p:'a',k:1,min:0,max:3,   iv:YI_a[1],dec:0,s:[['Pt_6s',a_Pt6s,'blk'],['Pt_5p',a_Pt5p,'mag'],['Pt_5d',a_Pt5d,'blu']],lg:[192,87.7,11.7,24]},
 {p:'a',k:2,min:0,max:0.78,iv:YI_a[2],dec:1,s:[['As_4s',a_As4s,'blk'],['As_4p',a_As4p,'grn'],['As_3d',a_As3d,'org']],lg:[192,156,11.5,24]},
 {p:'b',k:0,min:0,max:2,   iv:YI_b[0],dec:0,sm:true,s:[['N_2p',b_N2p,'blu'],['O_2p',b_O2p,'red']],lg:[555,20.7,15.3,24]},
 {p:'b',k:1,min:0,max:3,   iv:YI_b[1],dec:0,s:[['Pt_6s',b_Pt6s,'blk'],['Pt_5p',b_Pt5p,'mag'],['Pt_5d',b_Pt5d,'blu']],lg:[555,87.3,13,22]},
 {p:'b',k:2,min:0,max:0.5, iv:YI_b[2],dec:1,s:[['As_4s',b_As4s,'blk'],['As_4p',b_As4p,'grn'],['As_3d',b_As3d,'org']],lg:[555,155.3,12.4,20]},
 {p:'c',k:0,min:0,max:1.0, iv:YI_c[0],dec:1,s:[['N_2p',c_N2p,'blu'],['O_2p',c_O2p,'red']],lg:[237,264.3,15,21]},
 {p:'c',k:1,min:0,max:2.82,iv:YI_c[1],dec:0,s:[['Pt_6s',c_Pt6s,'blk'],['Pt_5p',c_Pt5p,'mag'],['Pt_5d',c_Pt5d,'blu']],lg:[233,332.3,12.7,24]},
 {p:'c',k:2,min:0,max:0.6, iv:YI_c[2],dec:1,s:[['As_4s',c_As4s,'blk'],['As_4p',c_As4p,'grn'],['As_3d',c_As3d,'org']],lg:[232,394,14.6,25]},
 {p:'d',k:0,min:-1.6,max:0.86,t:YT_d[0],dec:1,s:[['O_2p',d_O2p_up,'red'],['O_2p',d_O2p_dn,'red',{dn:1}]],lg:[558,267.7,12,19,11.5]},
 {p:'d',k:1,min:-2.5,max:2.5,t:YT_d[1],dec:0,s:[['Pt_6s',d_Pt6s_up,'blk'],['Pt_6s',d_Pt6s_dn,'blk',{dn:1}],['Pt_5p',d_Pt5p_up,'mag'],['Pt_5p',d_Pt5p_dn,'mag',{dn:1}],['Pt_5d',d_Pt5d_up,'blu'],['Pt_5d',d_Pt5d_dn,'blu',{dn:1}]],lg:[557,335,10.3,22,11.5]},
 {p:'d',k:2,min:-0.6,max:0.6,t:YT_d[2],dec:1,s:[['As_4s',d_As4s_up,'blk'],['As_4s',d_As4s_dn,'blk',{dn:1}],['As_4p',d_As4p_up,'grn'],['As_4p',d_As4p_dn,'grn',{dn:1}],['As_3d',d_As3d_up,'org'],['As_3d',d_As3d_dn,'org',{dn:1}]],lg:[499,394.3,14,21,11],horiz:true},
 {p:'e',k:0,min:0,max:0.4, iv:YI_e[0],dec:1,sm:true,s:[['N_2p',e_N2p,'blu'],['H',e_H,'cyn']],lg:[238,517.7,15,25]},
 {p:'e',k:1,min:0,max:3,   iv:YI_e[1],dec:0,s:[['Pt_6s',e_Pt6s,'blk'],['Pt_5p',e_Pt5p,'mag'],['Pt_5d',e_Pt5d,'blu']],lg:[235,579.3,13.3,23]},
 {p:'e',k:2,min:0,max:0.8, iv:YI_e[2],dec:1,s:[['As_4s',e_As4s,'blk'],['As_4p',e_As4p,'grn'],['As_3d',e_As3d,'org']],lg:[230,645,13.6,27]},
 {p:'f',k:0,min:0,max:0.14,iv:YI_f[0],dec:1,s:[['O_2p',f_O2p,'red'],['H',f_H,'blu']],lg:[555,516,15.7,22]},
 {p:'f',k:1,min:0,max:2,   iv:YI_f[1],dec:0,s:[['Pt_6s',f_Pt6s,'blk'],['Pt_5p',f_Pt5p,'mag'],['Pt_5d',f_Pt5d,'blu']],lg:[553,578.3,14.5,20]},
 {p:'f',k:2,min:0,max:0.49,iv:YI_f[2],dec:1,s:[['As_4s',f_As4s,'blk'],['As_4p',f_As4p,'grn'],['As_3d',f_As3d,'org']],lg:[546,644,13.5,21]},
 {p:'g',k:0,min:0,max:0.04,iv:YI_g[0],dec:2,sm:true,s:[['H1',g_H1,'cyn'],['H2',g_H2,'pur']],lg:[257,760,17.7,28]},
 {p:'g',k:1,min:0,max:3,   iv:YI_g[1],dec:0,s:[['Pt_6s',g_Pt6s,'blk'],['Pt_5p',g_Pt5p,'mag'],['Pt_5d',g_Pt5d,'blu']],lg:[245,825,14.2,22]},
 {p:'g',k:2,min:0,max:0.91,iv:YI_g[2],dec:1,s:[['As_4s',g_As4s,'blk'],['As_4p',g_As4p,'grn'],['As_3d',g_As3d,'org']],lg:[238,891,14.2,27]},
 {p:'h',k:0,min:0,max:0.4, iv:YI_h[0],dec:1,sm:true,s:[['N1_2p',h_N1,'cyn'],['N2_2p',h_N2,'pur']],lg:[497,761,15.7,18]},
 {p:'h',k:1,min:0,max:3,   iv:YI_h[1],dec:0,s:[['Pt_6s',g_Pt6s,'blk'],['Pt_5p',g_Pt5p,'mag'],['Pt_5d',g_Pt5d,'blu']],lg:[555,824.3,14.9,22]},
 {p:'h',k:2,min:0,max:0.91,iv:YI_h[2],dec:1,s:[['As_4s',g_As4s,'blk'],['As_4p',g_As4p,'grn'],['As_3d',g_As3d,'org']],lg:[547,890.7,14.6,26]}
];

// ---------------- BUILD ----------------
function toData(d){ return Array.isArray(d[0]) ? d : d.slice(0, E.length).map((v,i)=>[E[i], v]); }
function legendText(name){
  const s = name.split('#')[0];
  if (s.indexOf('_') >= 0) return '{n|' + s.slice(0,-1) + '}{i|' + s.slice(-1) + '}';
  return '{n|' + s + '}';
}
const grids=[], xAxes=[], yAxes=[], series=[], legends=[], graphics=[];
const tickStyle = {color:'#333', width:1};
SUBS.forEach((sp, gi) => {
  const p = P[sp.p];
  const top = p.y[sp.k], bot = p.y[sp.k+1];
  const isBot = sp.k === 2;
  grids.push({left:p.l, top:top, width:p.w, height:bot-top, show:true, borderColor:'#333', borderWidth:1, backgroundColor:'rgba(0,0,0,0)'});
  xAxes.push({gridIndex:gi, type:'value', position:'bottom', min:-5, max:p.xmax, interval:1,
    axisLine:{show:false, onZero:false}, splitLine:{show:false},
    axisTick:{show:true, inside:true, length:4, lineStyle:tickStyle},
    minorTick:{show:true, splitNumber:2, length:2, lineStyle:tickStyle},
    axisLabel:{show:isBot, fontFamily:FONT, fontWeight:'bold', fontSize:10, color:'#111', margin:3},
    name: isBot ? 'Energy(eV)' : '', nameLocation:'middle', nameGap:p.eg,
    nameTextStyle:{fontFamily:FONT, fontWeight:'bold', fontSize:13, color:'#111'}});
  const ya = {gridIndex:gi, type:'value', position:'left', min:sp.min, max:sp.max,
    axisLine:{show:false, onZero:false}, splitLine:{show:false},
    axisTick:{show:true, inside:true, length:4, lineStyle:tickStyle},
    axisLabel:{formatter:(v)=>Number(v).toFixed(sp.dec), fontFamily:FONT, fontWeight:'bold', fontSize:10, color:'#111', margin:6, showMinLabel:true, showMaxLabel:!!sp.sm},
    name: sp.k===1 ? 'PDOS(States/eV)' : '', nameLocation:'middle', nameGap:p.ng, nameRotate:90,
    nameTextStyle:{fontFamily:FONT, fontWeight:'bold', fontSize:13, color:'#111'}};
  if (sp.t) { ya.axisTick.customValues = sp.t; ya.axisLabel.customValues = sp.t; ya.axisLabel.showMaxLabel = true; }
  else { ya.interval = sp.iv; ya.minorTick = {show:true, splitNumber:2, length:2, lineStyle:tickStyle}; }
  yAxes.push(ya);
  // Fermi level reference line (dashed vertical at E = 0)
  series.push({type:'line', name:'Ef' + gi, xAxisIndex:gi, yAxisIndex:gi, data:[[FERMI, sp.min],[FERMI, sp.max]],
    symbol:'none', showSymbol:false, silent:true, animation:false, z:1, legendHoverLink:false,
    lineStyle: sp.p==='d' ? {color:'#555', type:[5,2,1,2], width:1} : {color:'#9a9a9a', type:[7,4], width:1.5}});
  const legNames = [];
  sp.s.forEach((ln, j) => {
    const nm = ln[0] + '#' + sp.p + sp.k + '_' + j;
    if (!(ln[3] && ln[3].dn)) legNames.push(nm);
    series.push({type:'line', name:nm, xAxisIndex:gi, yAxisIndex:gi, data:toData(ln[1]),
      symbol:'none', showSymbol:false, silent:true, animation:false, clip:true, z:2,
      lineStyle:{color:COL[ln[2]], width:1.3}, itemStyle:{color:COL[ln[2]]}});
  });
  const L = sp.lg, fs = L[4] || 13;
  const richBase = {fontFamily:FONT, fontWeight:'bold', fontSize:fs, color:'#000', lineHeight:12};
  const lgObj = {data:legNames, left:L[0], top:L[1]-6, padding:0, itemWidth:L[3], itemHeight:2, icon:'rect',
    selectedMode:false, formatter:legendText,
    textStyle:{fontFamily:FONT, fontWeight:'bold', fontSize:fs, color:'#000', lineHeight:12,
      rich:{n:richBase, i:Object.assign({}, richBase, {fontStyle:'italic'})}}};
  if (sp.horiz) { lgObj.orient='horizontal'; lgObj.width=118; lgObj.itemGap=4; }
  else { lgObj.orient='vertical'; lgObj.itemGap = L[2]-12; }
  legends.push(lgObj);
});
Object.keys(P).forEach(k => {
  const p = P[k];
  graphics.push({type:'text', left:p.lx, top:p.ly, style:{text:p.lab, font:(p.bold?'bold ':'')+'14px '+FONT, fill:'#111'}});
});

const chart = echarts.init(document.getElementById('c'), null, {renderer:'canvas'});
chart.setOption({animation:false, backgroundColor:'#fff', grid:grids, xAxis:xAxes, yAxis:yAxes, series:series, legend:legends, graphic:graphics});
</script></body></html>
